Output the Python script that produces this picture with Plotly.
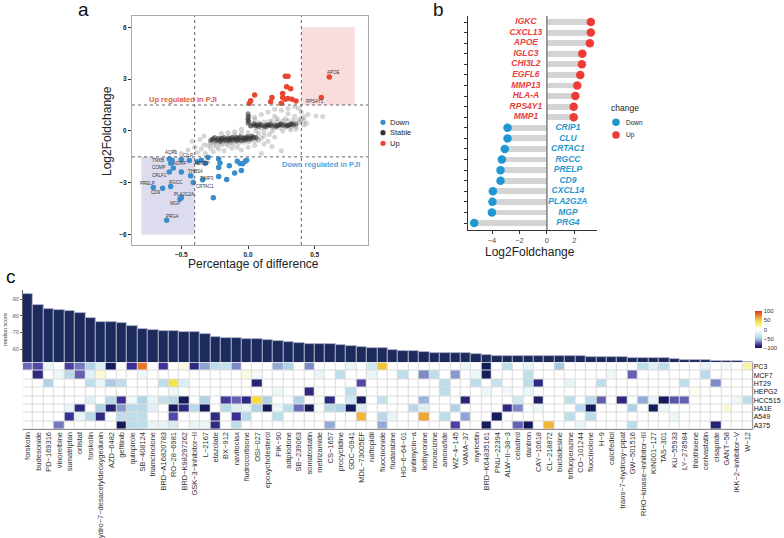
import plotly.graph_objects as go

W, H = 784, 538
FONT = "Liberation Sans, Arial, sans-serif"


def fx(p):
    return p / W


def fy(p):
    return 1 - p / H


# ---------------- panel a : percentage of difference vs log2FC ----------------
STABLE_SPARSE = [
    (-0.30, -0.85), (-0.28, -0.70), (-0.26, -0.78), (-0.25, -0.62), (-0.24, -0.90), (-0.22, -0.72),
    (-0.21, -0.58), (-0.20, -0.80), (-0.19, -0.66), (-0.18, -0.52), (-0.17, -0.74), (-0.16, -0.60),
    (-0.15, -0.84), (-0.14, -0.50), (-0.13, -0.68), (-0.12, -0.56), (-0.11, -0.76), (-0.10, -0.45),
    (-0.09, -0.62), (-0.08, -0.52), (-0.07, -0.70), (-0.06, -0.40), (-0.05, -0.58), (-0.04, -0.48),
    (-0.03, -0.66), (-0.02, -0.38), (-0.01, -0.55), (0.00, -0.45), (0.01, -0.62), (0.02, -0.35),
    (0.03, -0.50), (0.04, -0.42), (0.05, -0.58), (0.06, -0.40), (0.07, -0.48), (0.08, -0.55),
    (0.10, -0.42), (-0.45, -1.10), (-0.40, -0.95), (-0.38, -1.25), (-0.35, -1.05), (-0.33, -0.80),
    (-0.32, -1.30), (-0.28, -1.00), (-0.26, -1.20), (-0.22, -1.05), (-0.20, -0.15), (-0.18, -1.15),
    (-0.15, -0.10), (-0.12, -1.00), (-0.10, -0.05), (-0.08, -0.95), (-0.05, -1.10), (0.00, -0.95),
    (0.05, -0.85), (0.08, -0.15), (0.12, -0.75), (0.15, -0.60), (0.18, -0.90), (0.20, -0.35),
    (0.25, -1.15), (-0.50, -1.30), (-0.42, -0.60), (0.10, -1.30), (-0.55, -1.20), (-0.36, -0.50),
    (-0.33, -0.30), (0.12, -0.30), (0.16, -0.20),
    (0.02, 0.30), (0.04, 0.45), (0.06, 0.20), (0.08, 0.48), (0.10, 0.15), (0.12, 0.52),
    (0.14, 0.18), (0.16, 0.55), (0.18, 0.58), (0.20, 0.15), (0.22, 0.55), (0.24, 0.18),
    (0.26, 0.58), (0.28, 0.20), (0.30, 0.60), (0.32, 0.22), (0.34, 0.62), (0.36, 0.25),
    (0.05, 0.80), (0.10, 0.95), (0.15, 1.10), (0.20, 0.85), (0.25, 1.20), (0.28, 0.70),
    (0.30, 1.00), (0.35, 0.85), (0.38, 1.30), (0.40, 0.70), (0.40, 1.10), (0.36, 0.10),
    (0.32, 0.05), (0.26, 0.00), (0.18, -0.02), (0.12, -0.05), (0.42, 0.60), (0.45, 0.95),
    (0.56, 0.83), (0.51, 0.87), (-0.05, 0.10), (0.05, 0.65), (0.22, 0.70), (0.38, 0.65),
    (0.42, 0.80), (0.30, 1.30), (0.35, 1.40), (0.20, 1.25), (0.42, 0.35), (0.39, 0.50),
    (-0.05, -0.15), (0.00, -0.10), (0.06, 0.00), (-0.10, -0.25), (0.44, 0.45),
]
STABLE_CORE = [
    (-0.28, -0.55), (-0.26, -0.45), (-0.24, -0.58), (-0.22, -0.42), (-0.20, -0.52), (-0.18, -0.38),
    (-0.16, -0.48), (-0.14, -0.58), (-0.12, -0.36), (-0.10, -0.46), (-0.08, -0.55), (-0.06, -0.34),
    (-0.04, -0.44), (-0.02, -0.52), (0.00, -0.32), (0.02, -0.42), (0.04, -0.36), (-0.27, -0.50),
    (-0.23, -0.50), (-0.19, -0.45), (-0.15, -0.40), (-0.11, -0.52), (-0.07, -0.42), (-0.03, -0.38),
    (0.01, -0.48), (-0.25, -0.38), (-0.21, -0.60), (-0.17, -0.56), (-0.13, -0.44), (-0.09, -0.36),
    (-0.05, -0.56), (-0.01, -0.40), (0.03, -0.30), (-0.20, -0.44), (-0.14, -0.50), (-0.08, -0.46),
    (-0.02, -0.44), (0.06, -0.38),
    (0.02, 0.28), (0.04, 0.34), (0.06, 0.30), (0.08, 0.26), (0.10, 0.33), (0.12, 0.29),
    (0.14, 0.36), (0.16, 0.31), (0.18, 0.27), (0.20, 0.35), (0.22, 0.30), (0.24, 0.37),
    (0.26, 0.32), (0.28, 0.36), (0.30, 0.31), (0.32, 0.38), (0.34, 0.34), (0.36, 0.40),
    (0.05, 0.40), (0.09, 0.38), (0.13, 0.24), (0.17, 0.39), (0.21, 0.25), (0.25, 0.42),
    (0.29, 0.28), (0.33, 0.43), (0.15, 0.33), (0.23, 0.33), (0.31, 0.35), (0.07, 0.35),
    (0.00, 0.45), (0.00, 0.65), (0.005, 0.85), (0.00, 1.00), (0.005, 0.55), (0.00, 0.75),
]

DOWN_POINTS = [
    (-0.59, -1.63), (-0.57, -1.70), (-0.58, -1.87), (-0.56, -2.15), (-0.50, -1.67), (-0.44, -1.71),
    (-0.59, -2.38), (-0.50, -2.38), (-0.43, -2.60), (-0.41, -2.98), (-0.34, -2.83), (-0.58, -3.21),
    (-0.71, -3.27), (-0.64, -3.31), (-0.51, -3.94), (-0.50, -3.87), (-0.61, -5.17), (-0.38, -1.79),
    (-0.35, -1.70), (-0.30, -1.54), (-0.32, -1.87), (-0.22, -1.63), (-0.21, -1.85), (-0.22, -2.12),
    (-0.14, -2.02), (-0.22, -2.63), (-0.16, -2.81), (-0.10, -2.44), (-0.05, -2.29), (-0.08, -1.75),
    (-0.06, -1.88), (-0.02, -1.75), (-0.04, -1.90), (-0.01, -1.70), (-0.26, -3.87),
]
DOWN_LABELS = [
    "TNXB", "AQP1", "", "COMP", "ADIRF", "CILP",
    "CRLF1", "THBS4", "", "CRTAC1", "TIMP3", "RGCC",
    "PRELP", "CD9", "PLA2G2A", "MGP", "PRG4", "",
    "ABI3BP", "", "", "", "", "",
    "", "", "", "", "", "",
    "", "", "", "", "",
]

UP_POINTS = [
    (0.01, 1.60), (0.02, 1.75), (0.05, 2.08), (0.17, 1.69), (0.18, 1.94), (0.25, 1.60),
    (0.26, 2.17), (0.26, 1.94), (0.28, 3.17), (0.30, 3.17), (0.29, 2.56), (0.32, 2.44),
    (0.28, 1.83), (0.30, 1.88), (0.33, 1.83), (0.36, 1.73), (0.55, 1.94), (0.61, 3.12),
]
UP_LABELS = ["", "", "", "", "", "", "", "", "", "", "", "", "", "", "", "", "RPS4Y1", "APOE"]

# label text offsets in pixels (style)
LABEL_SHIFT = {
    "TNXB": (-11, -1), "AQP1": (-1, 8), "COMP": (-14, 1), "ADIRF": (-1, -4), "CILP": (-1, 5),
    "ABI3BP": (1, -3), "CRLF1": (-10, -3), "THBS4": (14, 1), "CRTAC1": (12, -4), "TIMP3": (4, 1),
    "RGCC": (5, 4), "PRELP": (-6, 4), "CD9": (-7, -4), "PLA2G2A": (4, 5), "MGP": (-6, -6),
    "PRG4": (6, 4), "APOE": (4, 5), "RPS4Y1": (-6, -4),
}

# ---------------- panel b : lollipop ----------------
B_GENES = ["PRG4", "MGP", "PLA2G2A", "CXCL14", "CD9", "PRELP", "RGCC", "CRTAC1", "CLU", "CRIP1",
           "MMP1", "RPS4Y1", "HLA-A", "MMP13", "EGFL6", "CHI3L2", "IGLC3", "APOE", "CXCL13", "IGKC"]
B_LFC = [-5.30, -4.01, -3.97, -3.94, -3.38, -3.38, -3.28, -3.07, -2.87, -2.87,
         1.95, 1.95, 2.07, 2.21, 2.43, 2.55, 2.58, 3.13, 3.20, 3.20]
B_CHANGE = ["Down", "Down", "Down", "Down", "Down", "Down", "Down", "Down", "Down", "Down",
            "Up", "Up", "Up", "Up", "Up", "Up", "Up", "Up", "Up", "Up"]

# ---------------- panel c : drugs ----------------
DRUGS = ["forskolin", "budesonide", "PD-169316", "vinorelbine", "sumatriptan", "orlistat", "forskolin",
         "dihydro-7-desacetyldeoxygedunin", "AZD-6482", "gefitinib", "quinpirole", "SB-408124",
         "triamcinolone", "BRD-A16820783", "RO-28-6981", "BRD-K98297262", "GSK-3-inhibitor-II",
         "L-2167", "etazolate", "BX-912", "navitoclax", "fludrocortisone", "OSI-027",
         "epoxycholesterol", "PIK-90", "adipiodone", "SB-239063", "somatostatin", "metrizamide",
         "CS-1657", "procyclidine", "GDC-0941", "MDL-73005EF", "naftopidil", "fluocinonide",
         "fludarabine", "HG-6-64-01", "antimycin-a", "liothyronine", "moracizine", "amonafide",
         "WZ-4-145", "VAMA-37", "myricetin", "BRD-K64835161", "PNU-22394", "ALW-II-38-3",
         "celastrol", "dantron", "CAY-10618", "CL-218872", "bucladesine", "trifluoperazine",
         "CO-101244", "fluocinolone", "H-9", "calcifediol", "trans-7-hydroxy-pipat", "GW-501516",
         "RHO-kinase-inhibitor-III", "KIN001-127", "TAS-301", "KU-55933", "LY-278584",
         "thiothixene", "cerivastatin", "cisapride", "GANT-58", "IKK-2-inhibitor-V", "W-12"]

MEDIAN_SCORE = [-93.4, -86.4, -84.0, -83.6, -83.2, -81.6, -78.6, -76.2, -76.2, -76.0,
                -73.9, -72.1, -71.3, -70.9, -70.7, -70.3, -70.0, -69.3, -67.1, -66.7,
                -66.5, -66.3, -65.9, -65.3, -64.7, -64.3, -63.5, -63.3, -63.3, -63.1,
                -62.4, -61.8, -61.0, -60.8, -60.4, -59.5, -59.0, -58.7, -58.0, -57.9,
                -57.8, -57.7, -57.6, -56.8, -56.2, -56.1, -56.1, -56.0, -56.0, -56.0,
                -55.9, -55.9, -55.8, -55.8, -55.3, -55.2, -55.2, -55.1, -54.7, -54.6,
                -54.6, -54.5, -54.0, -53.5, -53.4, -53.3, -52.9, -52.7, -52.6, -52.5]

CELL_LINES = ["PC3", "MCF7", "HT29", "HEPG2", "HCC515", "HA1E", "A549", "A375"]

PC3 = [-70, -78, -12, 0, -80, -68, -45, -20, -98, 0,
       -85, 80, 0, -84, 0, 10, -88, -60, -40, -35,
       -65, 0, 0, 0, -58, -45, 0, -65, 0, 0,
       0, -15, 0, -30, 55, 0, 0, 0, 0, 0,
       0, 0, -12, 0, -98, 0, -40, 0, -15, 0,
       0, -50, 0, 0, 0, 0, 0, 0, 0, -40,
       -20, -40, 0, 0, 0, -15, 0, -8, 0, 20]
MCF7 = [0, -88, 0, -12, -42, -72, -18, 12, 0, 0,
        0, -10, 0, 0, 0, 0, 0, 0, 0, 0,
        0, 8, -8, 0, 0, 0, 0, 0, -15, 0,
        -40, 0, 0, -12, 0, 0, -40, 0, -65, -40,
        0, -62, 0, -12, -98, 0, 0, 0, -38, 0,
        0, 0, 0, 0, 0, 0, -10, 0, -72, 0,
        0, 0, 0, 0, 0, -42, 0, 0, 0, 0]
HT29 = [0, 0, -45, 0, 0, 0, -40, -15, -48, -40,
        0, 0, 0, -40, 40, -22, 0, 0, 0, 0,
        0, 0, -90, 0, 0, 0, 0, 0, 0, 0,
        0, 0, -78, 0, 0, 0, 0, 0, 0, 0,
        -40, 0, 0, -40, 0, -35, 0, 0, -40, -88,
        0, 0, -15, 0, 0, -40, 0, 0, 0, 0,
        0, 0, 0, -40, 0, 0, -65, 0, 0, 0]
HEPG2 = [0, 0, 0, 0, 0, 0, 0, 0, 0, 0,
         0, 0, 0, 0, -10, 0, 0, 0, 0, 0,
         0, 0, 0, 0, -12, 0, 0, -88, 0, 0,
         0, -40, 0, 0, 0, 0, 0, 0, 0, 0,
         -40, 0, 0, 0, -10, 0, -8, 0, -12, 0,
         0, 0, 0, 0, 0, 0, 0, 0, 0, 0,
         0, 0, 0, 0, 5, 0, 0, 0, 0, 0]
HCC515 = [0, 0, 0, 0, 0, 0, -20, 0, -42, -85,
          -10, -45, -15, -35, -42, -98, 0, -45, 0, -82,
          -72, -88, 45, -45, 0, 0, -45, 0, 0, -88,
          0, -30, -98, 0, -35, 0, 0, 0, -55, 0,
          0, 0, -90, 0, 0, 0, 0, -30, 0, -92,
          0, 0, -40, 0, -40, -72, 0, -88, 0, -58,
          -15, -100, -75, -72, 0, 0, 0, 0, -10, -40]
HA1E = [0, 0, 0, 0, -15, -88, 0, -45, -90, -62,
        -42, -42, -18, 0, -98, -88, -42, -98, 0, -42,
        -20, -15, -45, -98, -12, -40, -70, -98, 0, -42,
        -45, -98, -20, 0, 0, 0, 0, -42, -20, 0,
        0, -45, 0, 0, 0, 0, -88, -65, 0, -10,
        0, 0, 0, -42, -98, 0, 0, 0, -45, 0,
        -98, -12, 0, 0, 0, 0, 0, 10, 0, 0]
A549 = [0, 0, 0, 0, -85, -15, -42, -88, 0, -40,
        -40, -40, 0, 0, -78, 0, 0, 0, -88, 0,
        -85, -42, 0, 0, -40, 0, 0, 0, 0, 0,
        0, 0, 60, 0, -42, -15, 0, 0, 65, 0,
        -40, 0, -60, 0, 0, -98, 0, 0, 0, 0,
        0, 0, -40, 0, -40, 0, 0, 0, 0, 0,
        0, 0, -12, 0, 0, 0, 0, 0, 0, 0]
A375 = [0, 0, 0, -68, 0, 0, 0, 0, 0, -98,
        -40, -40, -15, -15, -25, 0, -12, -12, -88, 0,
        -40, 0, 0, 0, 0, 0, 0, 0, 0, -58,
        0, 0, 0, 0, -58, 0, 0, 0, 0, 0,
        0, -80, 0, 0, -98, 0, 0, -72, -100, 0,
        60, 0, 0, -15, 0, 0, 0, 0, -40, 0,
        0, 0, 0, 0, 0, 0, -90, 0, 0, 0]

COLORSCALE = [
    [0.0, "#131a58"], [0.04, "#1c2166"], [0.075, "#3b2f95"], [0.1, "#4a3fa2"], [0.14, "#6560b2"],
    [0.17, "#7b85c5"], [0.2, "#8fa3d4"], [0.25, "#a6c8e0"], [0.3, "#bcdeea"], [0.35, "#cde8f0"],
    [0.4, "#dff0f5"], [0.45, "#eef7fa"], [0.5, "#ffffff"], [0.55, "#fdf9dc"], [0.6, "#faf3a8"],
    [0.7, "#f4e64a"], [0.78, "#f2c23c"], [0.88, "#e8842b"], [1.0, "#e0301e"],
]

BLUE_A, RED_A = "#3a8dcc", "#e8462e"
BLUE_B, RED_B = "#1f97d1", "#ef3b36"

fig = go.Figure()

# ---- panel a traces
fig.add_trace(go.Scatter(x=[p[0] for p in STABLE_SPARSE], y=[p[1] for p in STABLE_SPARSE], mode="markers",
                         marker=dict(size=5, color="rgba(90,90,90,0.25)", line=dict(width=0)),
                         xaxis="x", yaxis="y", hoverinfo="skip"))
fig.add_trace(go.Scatter(x=[p[0] for p in STABLE_CORE], y=[p[1] for p in STABLE_CORE], mode="markers",
                         marker=dict(size=5, color="rgba(50,50,50,0.55)", line=dict(width=0)),
                         xaxis="x", yaxis="y", hoverinfo="skip"))
fig.add_trace(go.Scatter(x=[p[0] for p in DOWN_POINTS], y=[p[1] for p in DOWN_POINTS], mode="markers",
                         marker=dict(size=5.5, color=BLUE_A, line=dict(width=0)), xaxis="x", yaxis="y"))
fig.add_trace(go.Scatter(x=[p[0] for p in UP_POINTS], y=[p[1] for p in UP_POINTS], mode="markers",
                         marker=dict(size=5.5, color=RED_A, line=dict(width=0)), xaxis="x", yaxis="y"))

# ---- panel b traces
positions = list(range(1, len(B_GENES) + 1))
pt_colors = [RED_B if c == "Up" else BLUE_B for c in B_CHANGE]
txt_colors = ["#e8403b" if c == "Up" else "#2b97cf" for c in B_CHANGE]
fig.add_trace(go.Bar(x=B_LFC, y=positions, orientation="h", width=0.55,
                     marker=dict(color="#d4d4d4", line=dict(width=0)), xaxis="x2", yaxis="y2"))
fig.add_trace(go.Scatter(x=B_LFC, y=positions, mode="markers",
                         marker=dict(size=8.5, color=pt_colors, line=dict(width=0)), xaxis="x2", yaxis="y2"))
fig.add_trace(go.Scatter(x=[-1.53 if c == "Up" else 1.53 for c in B_CHANGE], y=positions, mode="text",
                         text=[f"<b><i>{g}</i></b>" for g in B_GENES], textposition="middle center",
                         textfont=dict(size=8.5, color=txt_colors, family=FONT), xaxis="x2", yaxis="y2"))

# ---- panel c traces
cols = list(range(1, len(DRUGS) + 1))
fig.add_trace(go.Bar(x=cols, y=MEDIAN_SCORE, width=1,
                     marker=dict(color="#1c2a5c", line=dict(color="#b9bdd3", width=0.8)),
                     xaxis="x3", yaxis="y3"))
fig.add_trace(go.Heatmap(z=[PC3, MCF7, HT29, HEPG2, HCC515, HA1E, A549, A375], x=cols,
                         y=list(range(len(CELL_LINES))), colorscale=COLORSCALE, zmin=-100, zmax=100,
                         xgap=1, ygap=1, xaxis="x4", yaxis="y4",
                         colorbar=dict(x=fx(755), xanchor="left", y=fy(329.5), yanchor="middle",
                                       len=37 / H, lenmode="fraction", thickness=7, xpad=0, ypad=0,
                                       outlinewidth=0, ticks="", tickvals=[-100, -50, 0, 50, 100],
                                       ticktext=["−100", "−50", "0", "50", "100"],
                                       tickfont=dict(size=6, color="#333", family=FONT))))

axis_common = dict(showgrid=False, zeroline=False, automargin=False)

fig.update_layout(
    width=W, height=H, margin=dict(l=0, r=0, t=0, b=0), autosize=False,
    template="none", plot_bgcolor="white", paper_bgcolor="white",
    font=dict(family=FONT, color="#222"), showlegend=False,
    xaxis=dict(domain=[fx(132), fx(368)], range=[-0.87, 0.90], anchor="y",
               tickvals=[-0.5, 0, 0.5], ticktext=["−0.5", "0.0", "0.5"],
               showline=True, mirror=True, linecolor="#a8a8a8", linewidth=1,
               ticks="outside", ticklen=3, tickcolor="#333",
               tickfont=dict(size=6.5, color="#222", weight="bold"), **axis_common),
    yaxis=dict(domain=[fy(245), fy(16)], range=[-6.6, 6.65], anchor="x",
               tickvals=[-6, -3, 0, 3, 6], ticktext=["−6", "−3", "0", "3", "6"],
               showline=True, mirror=True, linecolor="#a8a8a8", linewidth=1,
               ticks="outside", ticklen=3, tickcolor="#333",
               tickfont=dict(size=6.5, color="#222", weight="bold"), **axis_common),
    xaxis2=dict(domain=[fx(468), fx(597)], range=[-5.75, 3.65], anchor="y2",
                tickvals=[-4, -2, 0, 2], ticktext=["−4", "−2", "0", "2"],
                showline=True, linecolor="#333", linewidth=1, ticks="outside", ticklen=3,
                tickcolor="#333", tickfont=dict(size=7.5, color="#4d4d4d"), **axis_common),
    yaxis2=dict(domain=[fy(230), fy(16)], range=[0.34, 20.57], anchor="x2",
                tickvals=positions, showticklabels=False,
                showline=True, linecolor="#333", linewidth=1, ticks="outside", ticklen=3,
                tickcolor="#333", **axis_common),
    xaxis3=dict(domain=[fx(22.7), fx(752.7)], range=[0.5, len(DRUGS) + 0.5], anchor="y3",
                visible=False, **axis_common),
    yaxis3=dict(domain=[fy(362), fy(290)], range=[-52.2, -95.6], anchor="x3",
                tickvals=[-90, -80, -70, -60], ticktext=["-90", "-80", "-70", "-60"],
                showline=True, linecolor="#666", linewidth=1, ticks="outside", ticklen=2,
                tickcolor="#666", tickfont=dict(size=5, color="#555"), **axis_common),
    xaxis4=dict(domain=[fx(22.7), fx(752.7)], range=[0.5, len(DRUGS) + 0.5], anchor="y4",
                tickvals=cols, ticktext=[d.replace("-", "−") for d in DRUGS], tickangle=-90,
                ticks="", tickfont=dict(size=7.5, color="#333"), **axis_common),
    yaxis4=dict(domain=[fy(429.5), fy(362.5)], range=[len(CELL_LINES) - 0.5, -0.5], anchor="x4",
                side="right", tickvals=list(range(len(CELL_LINES))), ticktext=CELL_LINES,
                ticks="", tickfont=dict(size=7, color="#111"), **axis_common),
    bargap=0,
)

shapes = [
    # panel a highlight boxes
    dict(type="rect", xref="x", yref="y", x0=0.4, x1=0.8, y0=1.5, y1=6, fillcolor="#f9dcdc",
         line=dict(width=0), layer="below"),
    dict(type="rect", xref="x", yref="y", x0=-0.8, x1=-0.4, y0=-6, y1=-1.5, fillcolor="#dddcef",
         line=dict(width=0), layer="below"),
    # dotted thresholds
    dict(type="line", xref="x", yref="y domain", x0=-0.4, x1=-0.4, y0=0, y1=1,
         line=dict(color="#666", width=1, dash="dot")),
    dict(type="line", xref="x", yref="y domain", x0=0.4, x1=0.4, y0=0, y1=1,
         line=dict(color="#666", width=1, dash="dot")),
    dict(type="line", xref="x domain", yref="y", x0=0, x1=1, y0=1.5, y1=1.5,
         line=dict(color="#666", width=1, dash="dot")),
    dict(type="line", xref="x domain", yref="y", x0=0, x1=1, y0=-1.5, y1=-1.5,
         line=dict(color="#666", width=1, dash="dot")),
    # panel b zero line
    dict(type="line", xref="x2", yref="y2 domain", x0=0, x1=0, y0=0, y1=1,
         line=dict(color="#7f7f7f", width=1.5)),
    # heatmap grid background and border
    dict(type="rect", xref="x4 domain", yref="y4 domain", x0=0, x1=1, y0=0, y1=1,
         fillcolor="#dcdcdc", line=dict(width=0), layer="below"),
    dict(type="line", xref="x4 domain", yref="y4 domain", x0=0, x1=1, y0=0, y1=0,
         line=dict(color="#8c8c8c", width=1)),
    dict(type="line", xref="x4 domain", yref="y4 domain", x0=1, x1=1, y0=0, y1=1,
         line=dict(color="#8c8c8c", width=1)),
]


def dot(cx, cy, r, color):
    return dict(type="circle", xref="paper", yref="paper", x0=fx(cx - r), x1=fx(cx + r),
                y0=fy(cy + r), y1=fy(cy - r), fillcolor=color, line=dict(width=0))


# legends (custom)
shapes += [dot(383, 122.3, 2.6, BLUE_A), dot(383, 132.7, 2.6, "#333333"), dot(383, 143.3, 2.6, RED_A),
           dot(616, 122.3, 3.8, BLUE_B), dot(616, 135, 3.8, RED_B)]

annotations = []


def ann(text, x, y, size, color="#222", xanchor="center", yanchor="middle", angle=0, **kw):
    annotations.append(dict(text=text, x=fx(x), y=fy(y), xref="paper", yref="paper", showarrow=False,
                            xanchor=xanchor, yanchor=yanchor, textangle=angle,
                            font=dict(size=size, color=color, family=FONT, **kw)))


# panel letters
ann("a", 83, 10, 19, color="#111")
ann("b", 438, 10, 19, color="#111")
ann("c", 11, 276, 19, color="#111")
# panel a titles
ann("Log2Foldchange", 107, 131, 12, angle=-90)
ann("Percentage of difference", 253, 264, 12)
ann("<b>Up regulated in PJI</b>", 183, 100, 7.5, color="#e35a3a")
ann("<b>Down regulated in PJI</b>", 321, 164, 7.5, color="#4fa3d9")
# panel a legend
ann("Down", 388, 122.3, 7.5, xanchor="left")
ann("Stable", 388, 132.7, 7.5, xanchor="left")
ann("Up", 388, 143.3, 7.5, xanchor="left")
# panel b
ann("Log2Foldchange", 530, 252, 12)
ann("change", 609, 108, 8.5, xanchor="left")
ann("Down", 624, 122.3, 6.5, xanchor="left")
ann("Up", 624, 135, 6.5, xanchor="left")
# panel c
ann("median score", 5, 330, 5.5, angle=-90, color="#444")

# gene labels in panel a
for (x, y), lab in list(zip(DOWN_POINTS, DOWN_LABELS)) + list(zip(UP_POINTS, UP_LABELS)):
    if lab:
        dx, dy = LABEL_SHIFT[lab]
        annotations.append(dict(text=lab, x=x, y=y, xref="x", yref="y", showarrow=False,
                                xshift=dx, yshift=dy, font=dict(size=4.5, color="#333", family=FONT)))

fig.update_layout(shapes=shapes, annotations=annotations)

fig.write_html("out.html", config={"displayModeBar": False},
               post_script="document.body.style.margin='0px';document.body.style.overflow='hidden';")
